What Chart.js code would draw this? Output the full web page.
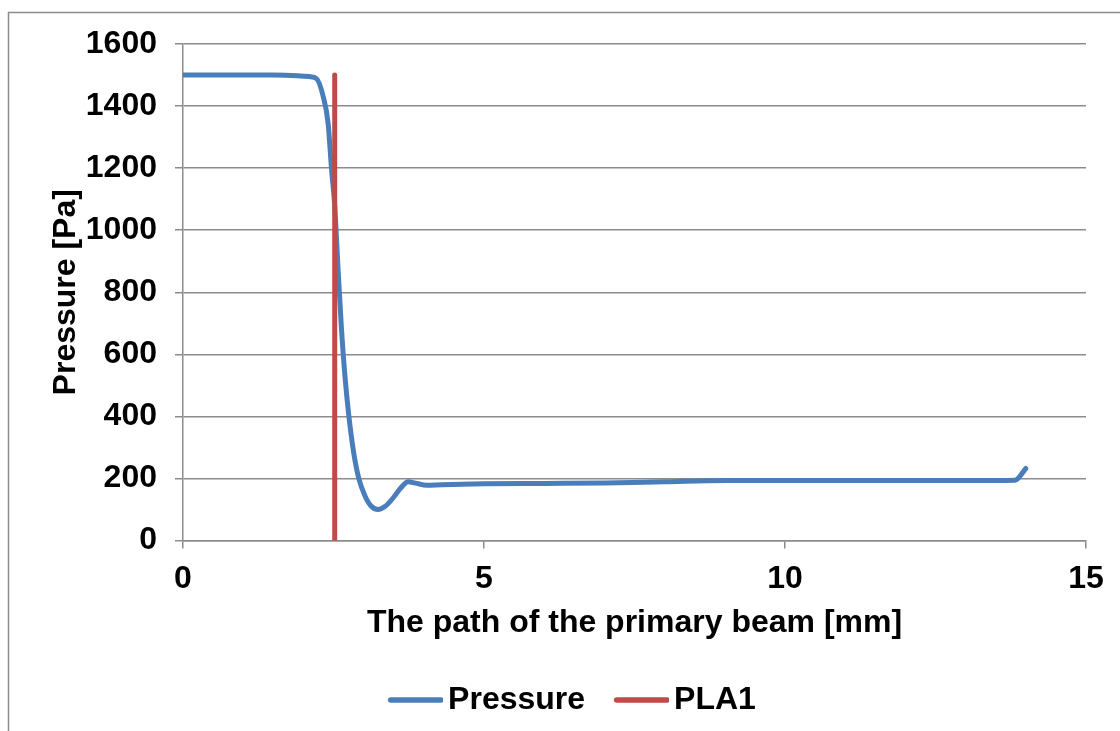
<!DOCTYPE html>
<html>
<head>
<meta charset="utf-8">
<script src="https://cdn.jsdelivr.net/npm/chart.js@4.4.1/dist/chart.umd.min.js"></script>
<style>
html,body{margin:0;padding:0;background:#fff;}
#wrap{width:1120px;height:731px;position:relative;}
</style>
</head>
<body>
<div id="wrap"><canvas id="c" width="1120" height="731"></canvas></div>
<script>
// Pressure along the primary beam path
const pathX = [0, 0.5, 1, 1.5, 1.9, 2.1, 2.22, 2.33, 2.41, 2.47, 2.52, 2.58, 2.63, 2.69, 2.75, 2.83, 2.92, 3.02, 3.12, 3.24, 3.36, 3.49, 3.62, 3.74, 3.86, 4.05, 4.3, 5, 6, 7, 8, 9, 10, 11, 12, 13, 13.82, 14];
const pressureY = [1500, 1500, 1500, 1500, 1498, 1495, 1488, 1430, 1345, 1190, 1080, 860, 690, 530, 410, 290, 200, 145, 112, 100, 110, 137, 170, 189, 185, 178, 180, 183, 184, 185, 189, 193, 193, 193, 193, 193, 194, 232];
// PLA1 marker (vertical line)
const pla1X = [2.52, 2.52];
const pla1Y = [0, 1500];
const yTicks = [0, 200, 400, 600, 800, 1000, 1200, 1400, 1600];
const xTicks = [0, 5, 10, 15];
const seriesNames = ['Pressure', 'PLA1'];
const seriesColors = ['#4a7ebb', '#be4b48'];

const FONT = "'Liberation Sans', Arial, sans-serif";
const GRID = '#8c8c8c';
const FS = 32;

// legend marker: a 55px rounded line, shifted toward its label
function legendMarker(color) {
  const c = document.createElement('canvas');
  c.width = 66; c.height = 10;
  const g = c.getContext('2d');
  g.strokeStyle = color;
  g.lineWidth = 5.5;
  g.lineCap = 'round';
  g.beginPath();
  g.moveTo(13.5, 5);
  g.lineTo(64, 5);
  g.stroke();
  return c;
}
const markers = seriesColors.map(legendMarker);

const borderPlugin = {
  id: 'frame',
  afterLayout(chart) {
    // legend sits a little right of the canvas centre in the original
    if (chart.legend) { chart.legend.left += 29; chart.legend.right += 29; }
  },
  beforeDraw(chart) {
    const ctx = chart.ctx;
    ctx.save();
    ctx.fillStyle = '#fff';
    ctx.fillRect(0, 0, chart.width, chart.height);
    ctx.strokeStyle = '#8c8c8c';
    ctx.lineWidth = 1.5;
    ctx.beginPath();
    ctx.moveTo(8.5, chart.height + 5);
    ctx.lineTo(8.5, 12.5);
    ctx.lineTo(chart.width + 5, 12.5);
    ctx.stroke();
    ctx.restore();
  }
};

new Chart(document.getElementById('c'), {
  type: 'line',
  data: {
    datasets: [
      {
        label: seriesNames[0],
        data: pathX.map((x, i) => ({x: x, y: pressureY[i]})),
        borderColor: seriesColors[0],
        backgroundColor: seriesColors[0],
        borderWidth: 5,
        pointRadius: 0,
        cubicInterpolationMode: 'monotone',
        borderCapStyle: 'round',
        borderJoinStyle: 'round',
        pointStyle: markers[0],
        order: 2
      },
      {
        label: seriesNames[1],
        data: pla1X.map((x, i) => ({x: x, y: pla1Y[i]})),
        borderColor: seriesColors[1],
        backgroundColor: seriesColors[1],
        borderWidth: 5,
        pointRadius: 0,
        borderCapStyle: 'round',
        pointStyle: markers[1],
        order: 1
      }
    ]
  },
  options: {
    responsive: false,
    animation: false,
    events: [],
    layout: { padding: { left: 0, right: 34, top: 44, bottom: 5 } },
    scales: {
      x: {
        type: 'linear',
        min: 0, max: 15,
        afterBuildTicks(s) { s.ticks = xTicks.map(v => ({value: v})); },
        afterFit(s) { s.height = 114.5; },
        grid: { drawOnChartArea: false, drawTicks: true, tickLength: 8, color: GRID, lineWidth: 1.5 },
        border: { display: true, color: GRID, width: 1.5 },
        ticks: { padding: 11, color: '#000', callback: v => String(v), font: { family: FONT, size: FS, weight: 'bold' } },
        title: { display: true, text: 'The path of the primary beam [mm]', color: '#000',
                 padding: { top: 0, bottom: 13 }, font: { family: FONT, size: FS, weight: 'bold' } }
      },
      y: {
        type: 'linear',
        min: 0, max: 1600,
        afterBuildTicks(s) { s.ticks = yTicks.map(v => ({value: v})); },
        afterFit(s) { s.width = 183; },
        grid: { drawOnChartArea: true, drawTicks: true, tickLength: 8, color: GRID, lineWidth: 1.5 },
        border: { display: true, color: GRID, width: 1.5 },
        ticks: { padding: 18, color: '#000', callback: v => String(v), font: { family: FONT, size: FS, weight: 'bold' } },
        title: { display: true, text: 'Pressure [Pa]', color: '#000',
                 padding: { top: 47, bottom: 0 }, font: { family: FONT, size: FS, weight: 'bold' } }
      }
    },
    plugins: {
      legend: {
        position: 'bottom',
        labels: {
          usePointStyle: true,
          pointStyleWidth: 44,
          padding: 29,
          color: '#000',
          font: { family: FONT, size: FS, weight: 'bold' },
          sort: (a, b) => a.datasetIndex - b.datasetIndex
        }
      },
      tooltip: { enabled: false }
    }
  },
  plugins: [borderPlugin]
});
</script>
</body>
</html>
